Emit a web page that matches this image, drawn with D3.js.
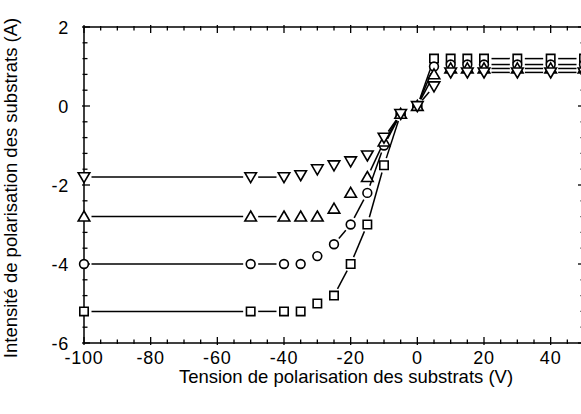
<!DOCTYPE html>
<html>
<head>
<meta charset="utf-8">
<script src="https://cdn.jsdelivr.net/npm/d3@7"></script>
<style>
  html, body { margin: 0; padding: 0; background: #fff; }
  svg { display: block; }
  text { font-family: "Liberation Sans", Arial, Helvetica, sans-serif; fill: #000; }
</style>
</head>
<body>
<svg id="chart" width="581" height="414"></svg>
<script>
// Substrate bias voltage (V)
const voltages = [-100, -50, -40, -35, -30, -25, -20, -15, -10, -5, 0, 5, 10, 15, 20, 30, 40, 50];

// Substrate bias current (A), one array per sample series
const currentSquare = [-5.2, -5.2, -5.2, -5.2, -5.0, -4.8, -4.0, -3.0, -1.5, -0.2, 0, 1.2, 1.2, 1.2, 1.2, 1.2, 1.2, 1.2];
const currentCircle = [-4.0, -4.0, -4.0, -4.0, -3.8, -3.5, -3.0, -2.2, -1.0, -0.2, 0, 1.0, 1.05, 1.05, 1.05, 1.05, 1.05, 1.05];
const currentUp     = [-2.8, -2.8, -2.8, -2.8, -2.8, -2.6, -2.2, -1.8, -0.9, -0.2, 0, 0.8, 0.95, 0.95, 0.95, 0.95, 0.95, 0.95];
const currentDown   = [-1.8, -1.8, -1.8, -1.75, -1.6, -1.5, -1.4, -1.25, -0.8, -0.2, 0, 0.5, 0.85, 0.85, 0.85, 0.85, 0.85, 0.85];

// Axis ticks
const xTicks = [-100, -80, -60, -40, -20, 0, 20, 40];
const xTickLabels = ["-100", "-80", "-60", "-40", "-20", "0", "20", "40"];
const yTicks = [2, 0, -2, -4, -6];
const yTickLabels = ["2", "0", "-2", "-4", "-6"];

const xTitle = "Tension de polarisation des substrats (V)";
const yTitle = "Intensité de polarisation des substrats (A)";

const svg = d3.select("#chart");

const plotLeft = 84, plotRight = 584, plotTop = 27, plotBottom = 343;
const x = d3.scaleLinear().domain([-100, 50]).range([plotLeft, plotRight]);
const y = d3.scaleLinear().domain([-6, 2]).range([plotBottom, plotTop]);

// Frame
svg.append("rect")
  .attr("x", plotLeft).attr("y", plotTop)
  .attr("width", plotRight - plotLeft).attr("height", plotBottom - plotTop)
  .attr("fill", "none").attr("stroke", "#000").attr("stroke-width", 1.5);

// Minor + major ticks on all four sides, pointing inward
const xMinor = d3.range(-100, 50.01, 5);
const yMinor = d3.range(-6, 2.001, 0.4);
const tickG = svg.append("g").attr("stroke", "#000").attr("stroke-width", 1.3);

xMinor.forEach(v => {
  const major = xTicks.includes(v);
  const inL = major ? 6 : 3.5, outL = major ? 2 : 1;
  const px = x(v);
  tickG.append("line").attr("x1", px).attr("x2", px).attr("y1", plotBottom + outL).attr("y2", plotBottom - inL);
  tickG.append("line").attr("x1", px).attr("x2", px).attr("y1", plotTop - outL).attr("y2", plotTop + inL);
});
yMinor.forEach(v0 => {
  const v = Math.round(v0 * 10) / 10;
  const major = yTicks.includes(v);
  const inL = major ? 6 : 3.5, outL = major ? 2 : 1.5;
  const py = y(v);
  tickG.append("line").attr("y1", py).attr("y2", py).attr("x1", plotLeft - outL).attr("x2", plotLeft + inL);
  tickG.append("line").attr("y1", py).attr("y2", py).attr("x1", plotRight + outL).attr("x2", plotRight - inL);
});

// Tick labels
svg.append("g").selectAll("text").data(xTicks).join("text")
  .attr("x", d => x(d)).attr("y", 363.5)
  .attr("text-anchor", "middle")
  .attr("font-size", 18)
  .style("letter-spacing", "0.8px")
  .text((d, i) => xTickLabels[i]);

svg.append("g").selectAll("text").data(yTicks).join("text")
  .attr("x", 69).attr("y", d => y(d) + 6.5)
  .attr("text-anchor", "end")
  .attr("font-size", 18)
  .style("letter-spacing", "0.8px")
  .text((d, i) => yTickLabels[i]);

// Axis titles
svg.append("text")
  .attr("x", 346).attr("y", 383)
  .attr("text-anchor", "middle")
  .attr("font-size", 18.5)
  .text(xTitle);

svg.append("text")
  .attr("transform", "translate(16.5,188) rotate(-90)")
  .attr("text-anchor", "middle")
  .attr("font-size", 18.5)
  .text(yTitle);

// Series definitions; connecting lines stop short of each marker and
// segments too short to show past the gaps are left out
const series = [
  { values: currentSquare, symbol: "square" },
  { values: currentCircle, symbol: "circle" },
  { values: currentUp, symbol: "up" },
  { values: currentDown, symbol: "down" }
];
const symbolGap = 7.5, minSegment = 9.5;

const plotG = svg.append("g");

series.forEach(s => {
  const pts = voltages.map((v, i) => [x(v), y(s.values[i])]);
  const segs = [];
  for (let i = 0; i < pts.length - 1; i++) {
    const [x1, y1] = pts[i], [x2, y2] = pts[i + 1];
    const d = Math.hypot(x2 - x1, y2 - y1);
    if (d - 2 * symbolGap < minSegment) continue;
    const ux = (x2 - x1) / d, uy = (y2 - y1) / d;
    segs.push([x1 + ux * symbolGap, y1 + uy * symbolGap, x2 - ux * symbolGap, y2 - uy * symbolGap]);
  }
  plotG.append("g").selectAll("line").data(segs).join("line")
    .attr("x1", d => d[0]).attr("y1", d => d[1])
    .attr("x2", d => d[2]).attr("y2", d => d[3])
    .attr("stroke", "#000").attr("stroke-width", 1.5);
});

// Markers, open symbols with white fill
const markerPath = {
  square: "M-4.2,-4.2H4.2V4.2H-4.2Z",
  circle: "M4.4,0A4.4,4.4 0 1 1 -4.4,0A4.4,4.4 0 1 1 4.4,0Z",
  up: "M0,-5.6L5.8,4.4H-5.8Z",
  down: "M0,5.6L5.8,-4.4H-5.8Z"
};

series.forEach(s => {
  plotG.append("g").selectAll("path").data(voltages).join("path")
    .attr("transform", (v, i) => `translate(${x(v)},${y(s.values[i])})`)
    .attr("d", markerPath[s.symbol])
    .attr("fill", "#fff")
    .attr("stroke", "#000")
    .attr("stroke-width", 1.6)
    .attr("stroke-linejoin", "miter");
});
</script>
</body>
</html>
